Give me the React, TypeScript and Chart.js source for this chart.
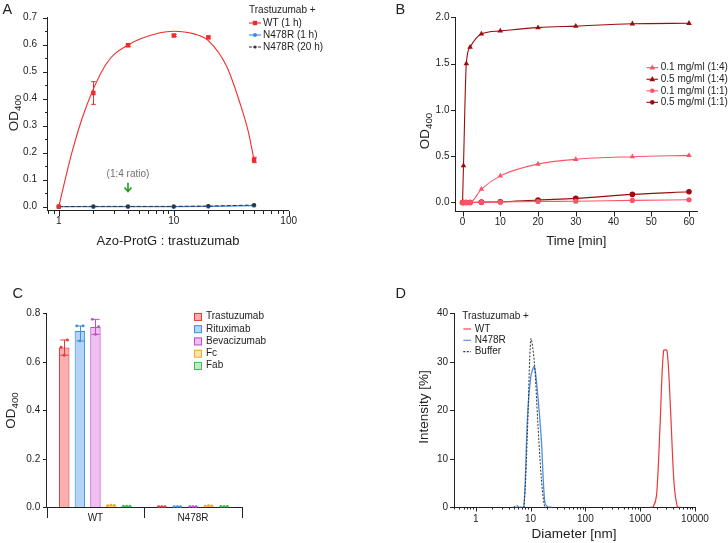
import React, { useEffect, useRef } from 'react';
import { Chart, registerables } from 'chart.js';

Chart.register(...registerables);

const FONT = '"Liberation Sans", Arial, Helvetica, sans-serif';
const INK = '#222222';

// ---------- A: OD400 vs. Azo-ProtG : trastuzumab ratio ----------
const ratios = [1, 2, 4, 10, 20, 50];
const wtOneHour = [0.0, 0.421, 0.598, 0.634, 0.627, 0.173];
const wtOneHourSd = [0.0, 0.042, 0.005, 0.004, 0.005, 0.01];
const n478rOneHour = [0.0, 0.0, 0.0, 0.0, 0.001, 0.004];
const n478rTwentyHours = [0.0, 0.001, 0.001, 0.001, 0.002, 0.006];
const wtTrendRatio = [1, 1.3, 1.69, 2.61, 4, 7.6, 10, 15, 20, 28.9, 37.7, 45, 50];
const wtTrendOD = [0.0, 0.2, 0.357, 0.531, 0.599, 0.644, 0.65, 0.64, 0.615, 0.519, 0.383, 0.27, 0.17];
const ratioNoteX = 4;
const ratioNoteY = 0.119;
const ratioArrowFrom = 0.089;
const ratioArrowTo = 0.056;

// ---------- B: OD400 time course ----------
const minutes = [0, 0.25, 1, 2, 5, 10, 20, 30, 45, 60];
const od01Ratio14 = [0, 0, 0, 0, 0.144, 0.287, 0.415, 0.466, 0.494, 0.508];
const od05Ratio14 = [0, 0.398, 1.5, 1.678, 1.82, 1.853, 1.888, 1.905, 1.93, 1.935];
const od01Ratio11 = [0, 0, 0, 0, 0.002, 0.004, 0.01, 0.013, 0.022, 0.029];
const od05Ratio11 = [0, 0, 0, 0, 0.003, 0.007, 0.027, 0.044, 0.087, 0.115];

// ---------- C: OD400 per antibody / fragment ----------
const variants = ['WT', 'N478R'];
const antibodyNames = ['Trastuzumab', 'Rituximab', 'Bevacizumab', 'Fc', 'Fab'];
const trastuzumabOD = [0.659, 0.003];
const rituximabOD = [0.727, 0.003];
const bevacizumabOD = [0.744, 0.003];
const fcOD = [0.008, 0.006];
const fabOD = [0.005, 0.004];
const trastuzumabReplicates = [[0.66, 0.627, 0.69], [0.003, 0.003, 0.003]];
const rituximabReplicates = [[0.748, 0.686, 0.748], [0.003, 0.003, 0.003]];
const bevacizumabReplicates = [[0.775, 0.713, 0.745], [0.003, 0.003, 0.003]];
const fcReplicates = [[0.007, 0.009, 0.008], [0.005, 0.007, 0.006]];
const fabReplicates = [[0.005, 0.005, 0.005], [0.004, 0.004, 0.004]];

// ---------- D: DLS size distribution ----------
const wtDiameter = [1484, 1718, 1990, 2305, 2669, 3091, 3580, 4145, 4801, 5560];
const wtIntensity = [0, 0, 2.5, 17, 32.3, 32.3, 20, 5, 0, 0];
const smallDiameter = [4.849, 5.615, 6.503, 7.531, 8.721, 10.1, 11.7, 13.54, 15.69, 18.17, 21.04, 24.36];
const n478rIntensity = [0, 0, 0, 0, 18, 27, 29, 23, 14, 1, 0, 0];
const bufferIntensity = [0, 0.3, 0, 0, 15, 34.7, 30, 17.5, 6, 0, 0, 0];

const RED = '#f42a2a';
const BLUE = '#3b88e6';
const DARK = '#333333';
const LIGHT_RED = '#ff5468';
const DARK_RED = '#9c0c0c';

const barColors = [
  { fill: 'rgba(246,120,120,0.6)', line: '#e8393d' },
  { fill: 'rgba(130,182,240,0.6)', line: '#3d8fe0' },
  { fill: 'rgba(226,150,234,0.6)', line: '#c04cc8' },
  { fill: 'rgba(252,206,130,0.6)', line: '#f5a623' },
  { fill: 'rgba(140,226,160,0.6)', line: '#33c25a' },
];

// ---------- drawing helpers ----------
type Ctx = CanvasRenderingContext2D;

const pts = (xs: number[], ys: number[]) => xs.map((x, i) => ({ x, y: ys[i] }));

function steps(min: number, max: number, step: number) {
  const out: number[] = [];
  const start = Math.ceil(min / step - 1e-9);
  for (let k = start; k * step <= max + 1e-9; k++) out.push(+(k * step).toFixed(6));
  return out;
}

function logMinors(min: number, max: number) {
  const out: number[] = [];
  for (let e = Math.floor(Math.log10(min)); e <= Math.ceil(Math.log10(max)); e++) {
    const d = Math.pow(10, e);
    for (let k = 2; k <= 9; k++) {
      const v = k * d;
      if (v >= min && v <= max) out.push(v);
    }
  }
  return out;
}

function label(ctx: Ctx, s: string, x: number, y: number, size: number, align: CanvasTextAlign = 'left', color = INK, baseline: CanvasTextBaseline = 'middle') {
  ctx.save();
  ctx.font = `${size}px ${FONT}`;
  ctx.fillStyle = color;
  ctx.textAlign = align;
  ctx.textBaseline = baseline;
  ctx.fillText(s, x, y);
  ctx.restore();
}

// axis title with optional subscript, centred on (cx, cy); vertical when rotate is set
function axisTitle(ctx: Ctx, main: string, sub: string, cx: number, cy: number, size: number, rotate: boolean) {
  ctx.save();
  ctx.translate(cx, cy);
  if (rotate) ctx.rotate(-Math.PI / 2);
  ctx.fillStyle = INK;
  ctx.textBaseline = 'alphabetic';
  const subSize = size * 0.72;
  ctx.font = `${size}px ${FONT}`;
  const w1 = ctx.measureText(main).width;
  ctx.font = `${subSize}px ${FONT}`;
  const w2 = sub ? ctx.measureText(sub).width : 0;
  const x0 = -(w1 + w2) / 2;
  const base = size * 0.36;
  ctx.font = `${size}px ${FONT}`;
  ctx.fillText(main, x0, base);
  if (sub) {
    ctx.font = `${subSize}px ${FONT}`;
    ctx.fillText(sub, x0 + w1, base + size * 0.22);
  }
  ctx.restore();
}

function axisTicks(ctx: Ctx, scale: any, majors: number[], minors: number[], majorLen: number, minorLen: number) {
  ctx.save();
  ctx.strokeStyle = INK;
  ctx.lineWidth = 1;
  ctx.beginPath();
  const horizontal = scale.isHorizontal();
  const mark = (v: number, len: number) => {
    const p = Math.round(scale.getPixelForValue(v)) + 0.5;
    if (horizontal) {
      const y0 = Math.round(scale.top);
      ctx.moveTo(p, y0);
      ctx.lineTo(p, y0 + len);
    } else {
      const x0 = Math.round(scale.right);
      ctx.moveTo(x0, p);
      ctx.lineTo(x0 - len, p);
    }
  };
  majors.forEach((v) => mark(v, majorLen));
  minors.forEach((v) => mark(v, minorLen));
  ctx.stroke();
  ctx.restore();
}

function marker(ctx: Ctx, style: string, x: number, y: number, r: number, color: string) {
  ctx.save();
  ctx.fillStyle = color;
  ctx.beginPath();
  if (style === 'rect') ctx.rect(x - r, y - r, 2 * r, 2 * r);
  else if (style === 'triangle') {
    ctx.moveTo(x, y - r * 1.2);
    ctx.lineTo(x + r * 1.05, y + r * 0.7);
    ctx.lineTo(x - r * 1.05, y + r * 0.7);
    ctx.closePath();
  } else ctx.arc(x, y, r, 0, Math.PI * 2);
  ctx.fill();
  ctx.restore();
}

function legendLine(ctx: Ctx, x0: number, x1: number, y: number, color: string, dash: number[], width = 1) {
  ctx.save();
  ctx.strokeStyle = color;
  ctx.lineWidth = width;
  ctx.setLineDash(dash);
  ctx.beginPath();
  ctx.moveTo(x0, y + 0.5);
  ctx.lineTo(x1, y + 0.5);
  ctx.stroke();
  ctx.restore();
}

function baseAxis(size: number, padding: number) {
  return {
    grid: { display: false, drawTicks: false },
    border: { display: true, color: INK, width: 1 },
    ticks: {
      color: INK,
      font: { family: FONT, size },
      padding,
      autoSkip: false,
      maxRotation: 0,
      minRotation: 0,
    },
  };
}

function baseOptions(padding: { left: number; top: number; right: number; bottom: number }) {
  return {
    responsive: false,
    maintainAspectRatio: false,
    animation: false as const,
    devicePixelRatio: 1,
    events: [] as any[],
    layout: { padding },
    plugins: { legend: { display: false }, tooltip: { enabled: false }, title: { display: false } },
  };
}

// ---------- panel A ----------
function configA(): any {
  const yTicks = steps(0, 0.7, 0.1);
  return {
    type: 'scatter',
    data: {
      datasets: [
        {
          data: pts(ratios, wtOneHour),
          showLine: false,
          pointStyle: 'rect',
          pointRadius: 3.1,
          backgroundColor: RED,
          borderColor: RED,
          borderWidth: 0,
        },
        {
          data: pts(wtTrendRatio, wtTrendOD),
          showLine: true,
          borderColor: RED,
          borderWidth: 1.1,
          pointRadius: 0,
          cubicInterpolationMode: 'monotone',
        },
        {
          data: pts(ratios, n478rTwentyHours),
          showLine: true,
          borderColor: DARK,
          borderDash: [4, 2],
          borderWidth: 1,
          pointRadius: 2,
          pointBackgroundColor: DARK,
          pointBorderWidth: 0,
        },
        {
          data: pts(ratios, n478rOneHour),
          showLine: true,
          borderColor: BLUE,
          borderWidth: 1.2,
          pointRadius: 2.3,
          pointBackgroundColor: BLUE,
          pointBorderWidth: 0,
        },
      ],
    },
    options: {
      ...baseOptions({ left: 0, top: 17.7, right: 75.3, bottom: 0 }),
      scales: {
        x: {
          type: 'logarithmic',
          min: 0.79,
          max: 100,
          ...baseAxis(10, 4.5),
          ticks: { ...baseAxis(10, 4.5).ticks, callback: (v: any) => String(v) },
          afterBuildTicks: (s: any) => {
            s.ticks = [1, 10, 100].map((value) => ({ value }));
          },
          afterFit: (s: any) => {
            s.height = 59.3;
          },
        },
        y: {
          type: 'linear',
          min: -0.015,
          max: 0.7,
          ...baseAxis(10, 10),
          ticks: { ...baseAxis(10, 10).ticks, callback: (v: any) => Number(v).toFixed(1) },
          afterBuildTicks: (s: any) => {
            s.ticks = yTicks.map((value) => ({ value }));
          },
          afterFit: (s: any) => {
            s.width = 47;
          },
        },
      },
    },
    plugins: [
      {
        id: 'panelA',
        beforeDatasetsDraw(chart: any) {
          const ctx: Ctx = chart.ctx;
          const { x, y } = chart.scales;
          axisTicks(ctx, x, [1, 10, 100], logMinors(0.79, 100), 5, 3);
          axisTicks(ctx, y, yTicks, steps(0, 0.7, 0.05).filter((v) => !yTicks.some((t) => Math.abs(t - v) < 1e-6)), 4, 2);
          // standard deviation bars for WT (1 h)
          ctx.save();
          ctx.strokeStyle = RED;
          ctx.lineWidth = 1;
          ctx.beginPath();
          ratios.forEach((r, i) => {
            if (!wtOneHourSd[i]) return;
            const px = Math.round(x.getPixelForValue(r)) + 0.5;
            const top = y.getPixelForValue(wtOneHour[i] + wtOneHourSd[i]);
            const bot = y.getPixelForValue(wtOneHour[i] - wtOneHourSd[i]);
            ctx.moveTo(px, top);
            ctx.lineTo(px, bot);
            ctx.moveTo(px - 2.3, top);
            ctx.lineTo(px + 2.3, top);
            ctx.moveTo(px - 2.3, bot);
            ctx.lineTo(px + 2.3, bot);
          });
          ctx.stroke();
          ctx.restore();
        },
        afterDraw(chart: any) {
          const ctx: Ctx = chart.ctx;
          const { x, y } = chart.scales;
          label(ctx, 'A', 2.5, 14, 14.5, 'left', INK, 'alphabetic');
          axisTitle(ctx, 'OD', '400', 13.5, 113, 13.5, true);
          axisTitle(ctx, 'Azo-ProtG : trastuzumab', '', 168, 240.5, 13, false);
          // ratio annotation
          const ax = x.getPixelForValue(ratioNoteX);
          label(ctx, '(1:4 ratio)', ax, y.getPixelForValue(ratioNoteY), 10, 'center', '#707070');
          const a0 = y.getPixelForValue(ratioArrowFrom);
          const a1 = y.getPixelForValue(ratioArrowTo);
          ctx.save();
          ctx.strokeStyle = '#1e9e1e';
          ctx.lineWidth = 1.6;
          ctx.beginPath();
          ctx.moveTo(ax, a0);
          ctx.lineTo(ax, a1);
          ctx.moveTo(ax - 3.5, a1 - 4);
          ctx.lineTo(ax, a1);
          ctx.lineTo(ax + 3.5, a1 - 4);
          ctx.stroke();
          ctx.restore();
          // legend
          label(ctx, 'Trastuzumab +', 249, 10.7, 10);
          const rows: [string, string, number[], string, number][] = [
            ['WT (1 h)', RED, [], 'rect', 2.2],
            ['N478R (1 h)', BLUE, [], 'circle', 2],
            ['N478R (20 h)', DARK, [3, 1.5], 'circle', 1.6],
          ];
          rows.forEach(([t, c, dash, m, r], i) => {
            const yy = 23 + i * 12;
            legendLine(ctx, 249, 261, yy - 0.5, c, dash, 1.1);
            marker(ctx, m, 255, yy, r, c);
            label(ctx, t, 263, yy, 10);
          });
        },
      },
    ],
  };
}

// ---------- panel B ----------
function configB(): any {
  const xTicks = steps(0, 60, 10);
  const yTicks = steps(0, 2, 0.5);
  const series: [number[], string, string, number][] = [
    [od01Ratio14, LIGHT_RED, 'triangle', 3.2],
    [od05Ratio14, DARK_RED, 'triangle', 3.2],
    [od01Ratio11, LIGHT_RED, 'circle', 2.6],
    [od05Ratio11, DARK_RED, 'circle', 2.8],
  ];
  return {
    type: 'scatter',
    data: {
      datasets: series.map(([vals, color, style, r]) => ({
        data: pts(minutes, vals),
        showLine: true,
        borderColor: color,
        borderWidth: 1.1,
        pointStyle: style,
        pointRadius: r,
        pointBackgroundColor: color,
        pointBorderColor: color,
        pointBorderWidth: 0,
        cubicInterpolationMode: 'monotone',
      })),
    },
    options: {
      ...baseOptions({ left: 0, top: 17.3, right: 30.7, bottom: 0 }),
      scales: {
        x: {
          type: 'linear',
          min: -2,
          max: 62.2,
          ...baseAxis(10, 4.8),
          ticks: { ...baseAxis(10, 4.8).ticks, callback: (v: any) => String(v) },
          afterBuildTicks: (s: any) => {
            s.ticks = xTicks.map((value) => ({ value }));
          },
          afterFit: (s: any) => {
            s.height = 58.3;
          },
        },
        y: {
          type: 'linear',
          min: -0.1,
          max: 2.0,
          ...baseAxis(10, 5.5),
          ticks: { ...baseAxis(10, 5.5).ticks, callback: (v: any) => Number(v).toFixed(1) },
          afterBuildTicks: (s: any) => {
            s.ticks = yTicks.map((value) => ({ value }));
          },
          afterFit: (s: any) => {
            s.width = 91;
          },
        },
      },
    },
    plugins: [
      {
        id: 'panelB',
        beforeDatasetsDraw(chart: any) {
          const ctx: Ctx = chart.ctx;
          const { x, y } = chart.scales;
          axisTicks(ctx, x, xTicks, steps(5, 55, 10), 4.5, 2.5);
          axisTicks(ctx, y, yTicks, steps(0.25, 1.75, 0.5), 4, 2);
        },
        afterDraw(chart: any) {
          const ctx: Ctx = chart.ctx;
          label(ctx, 'B', 31.5, 14, 14.5, 'left', INK, 'alphabetic');
          axisTitle(ctx, 'OD', '400', 60.5, 131, 13.5, true);
          axisTitle(ctx, 'Time [min]', '', 212.3, 240.5, 13, false);
          const names = ['0.1 mg/ml (1:4)', '0.5 mg/ml (1:4)', '0.1 mg/ml (1:1)', '0.5 mg/ml (1:1)'];
          series.forEach(([, color, style], i) => {
            const yy = 67.7 + i * 11.55;
            legendLine(ctx, 282.5, 294, yy - 0.5, color, [], 1.1);
            marker(ctx, style, 288.3, yy, style === 'triangle' ? 2.7 : 2.3, color);
            label(ctx, names[i], 296.7, yy, 10);
          });
        },
      },
    ],
  };
}

// ---------- panel C ----------
function configC(): any {
  const yTicks = steps(0, 0.8, 0.2);
  const means = [trastuzumabOD, rituximabOD, bevacizumabOD, fcOD, fabOD];
  const reps = [trastuzumabReplicates, rituximabReplicates, bevacizumabReplicates, fcReplicates, fabReplicates];
  return {
    type: 'bar',
    data: {
      labels: variants,
      datasets: antibodyNames.map((name, i) => ({
        label: name,
        data: means[i],
        backgroundColor: barColors[i].fill,
        borderColor: barColors[i].line,
        borderWidth: 1,
        categoryPercentage: 0.8,
        barPercentage: 0.67,
      })),
    },
    options: {
      ...baseOptions({ left: 0, top: 43.3, right: 122.3, bottom: 0 }),
      scales: {
        x: {
          type: 'category',
          offset: true,
          ...baseAxis(10, 5),
          afterFit: (s: any) => {
            s.height = 35.7;
          },
        },
        y: {
          type: 'linear',
          min: 0,
          max: 0.8,
          ...baseAxis(10, 6.5),
          ticks: { ...baseAxis(10, 6.5).ticks, callback: (v: any) => Number(v).toFixed(1) },
          afterBuildTicks: (s: any) => {
            s.ticks = yTicks.map((value) => ({ value }));
          },
          afterFit: (s: any) => {
            s.width = 46.7;
          },
        },
      },
    },
    plugins: [
      {
        id: 'panelC',
        beforeDatasetsDraw(chart: any) {
          const ctx: Ctx = chart.ctx;
          const { x, y } = chart.scales;
          axisTicks(ctx, y, yTicks, steps(0.1, 0.7, 0.2), 4, 2);
          // category boundaries on the x axis
          const w = x.getPixelForValue(1) - x.getPixelForValue(0);
          const edges = [x.getPixelForValue(0) - w / 2, x.getPixelForValue(0) + w / 2, x.getPixelForValue(1) + w / 2];
          ctx.save();
          ctx.strokeStyle = INK;
          ctx.lineWidth = 1;
          ctx.beginPath();
          edges.forEach((e) => {
            const p = Math.round(e) + 0.5;
            ctx.moveTo(p, Math.round(y.bottom));
            ctx.lineTo(p, Math.round(y.bottom) + 11);
          });
          ctx.stroke();
          ctx.restore();
        },
        afterDatasetsDraw(chart: any) {
          const ctx: Ctx = chart.ctx;
          const { y } = chart.scales;
          reps.forEach((groupReps, i) => {
            const meta = chart.getDatasetMeta(i);
            groupReps.forEach((vals, j) => {
              const bar = meta.data[j];
              const bx = bar.x;
              const bw = bar.width;
              const lo = Math.min(...vals);
              const hi = Math.max(...vals);
              const col = barColors[i].line;
              ctx.save();
              ctx.strokeStyle = col;
              ctx.fillStyle = col;
              ctx.lineWidth = 1;
              if (hi - lo > 0.004) {
                const pt = y.getPixelForValue(hi);
                const pb = y.getPixelForValue(lo);
                const xx = Math.round(bx) + 0.5;
                ctx.beginPath();
                ctx.moveTo(xx, pt);
                ctx.lineTo(xx, pb);
                ctx.moveTo(xx - bw * 0.4, pt);
                ctx.lineTo(xx + bw * 0.4, pt);
                ctx.moveTo(xx - bw * 0.4, pb);
                ctx.lineTo(xx + bw * 0.4, pb);
                ctx.stroke();
              }
              vals.forEach((v, k) => {
                ctx.beginPath();
                ctx.arc(bx + (k - 1) * bw * 0.3, y.getPixelForValue(v), 1.4, 0, Math.PI * 2);
                ctx.fill();
              });
              ctx.restore();
            });
          });
        },
        afterDraw(chart: any) {
          const ctx: Ctx = chart.ctx;
          label(ctx, 'C', 12.5, 27.5, 14.5, 'left', INK, 'alphabetic');
          axisTitle(ctx, 'OD', '400', 10.5, 140.5, 13.5, true);
          antibodyNames.forEach((name, i) => {
            const yy = 46.7 + i * 12.25;
            ctx.save();
            ctx.fillStyle = barColors[i].fill;
            ctx.strokeStyle = barColors[i].line;
            ctx.lineWidth = 1;
            ctx.fillRect(194, yy - 3.75, 7.5, 7.5);
            ctx.strokeRect(194.5, yy - 3.25, 7, 7);
            ctx.restore();
            label(ctx, name, 206, yy, 10);
          });
        },
      },
    ],
  };
}

// ---------- panel D ----------
function configD(): any {
  const yTicks = steps(0, 40, 10);
  const xTicks = [1, 10, 100, 1000, 10000];
  return {
    type: 'scatter',
    data: {
      datasets: [
        {
          data: pts(smallDiameter, bufferIntensity),
          showLine: true,
          borderColor: DARK,
          borderDash: [2, 1.5],
          borderWidth: 1,
          pointRadius: 0,
          tension: 0.3,
        },
        {
          data: pts(smallDiameter, n478rIntensity),
          showLine: true,
          borderColor: '#4a90e2',
          borderWidth: 1.3,
          pointRadius: 0,
          tension: 0.3,
        },
        {
          data: pts(wtDiameter, wtIntensity),
          showLine: true,
          borderColor: '#f03636',
          borderWidth: 1.2,
          pointRadius: 0,
          tension: 0.3,
        },
      ],
    },
    options: {
      ...baseOptions({ left: 0, top: 43.3, right: 33, bottom: 0 }),
      scales: {
        x: {
          type: 'logarithmic',
          min: 0.4,
          max: 10000,
          ...baseAxis(10, 6),
          ticks: { ...baseAxis(10, 6).ticks, callback: (v: any) => String(v) },
          afterBuildTicks: (s: any) => {
            s.ticks = xTicks.map((value) => ({ value }));
          },
          afterFit: (s: any) => {
            s.height = 35.7;
          },
        },
        y: {
          type: 'linear',
          min: 0,
          max: 40,
          ...baseAxis(10, 6),
          ticks: { ...baseAxis(10, 6).ticks, callback: (v: any) => String(v) },
          afterBuildTicks: (s: any) => {
            s.ticks = yTicks.map((value) => ({ value }));
          },
          afterFit: (s: any) => {
            s.width = 90;
          },
        },
      },
    },
    plugins: [
      {
        id: 'panelD',
        beforeDatasetsDraw(chart: any) {
          const ctx: Ctx = chart.ctx;
          const { x, y } = chart.scales;
          axisTicks(ctx, x, xTicks, logMinors(0.4, 10000), 4.5, 2.5);
          axisTicks(ctx, y, yTicks, steps(5, 35, 10), 4, 2);
        },
        afterDraw(chart: any) {
          const ctx: Ctx = chart.ctx;
          label(ctx, 'D', 31.5, 27.5, 14.5, 'left', INK, 'alphabetic');
          axisTitle(ctx, 'Intensity [%]', '', 59, 137, 13.5, true);
          axisTitle(ctx, 'Diameter [nm]', '', 210, 263.5, 13.5, false);
          label(ctx, 'Trastuzumab +', 98.3, 46.7, 10);
          const rows: [string, string, number[]][] = [
            ['WT', '#f03636', []],
            ['N478R', '#4a90e2', []],
            ['Buffer', DARK, [2, 1.5]],
          ];
          rows.forEach(([t, c, dash], i) => {
            const yy = 59 + i * 11.3;
            legendLine(ctx, 99.3, 107, yy - 0.5, c, dash, 1.1);
            label(ctx, t, 110.7, yy, 10);
          });
        },
      },
    ],
  };
}

function ChartCanvas({ left, top, width, height, make }: { left: number; top: number; width: number; height: number; make: () => any }) {
  const ref = useRef<HTMLCanvasElement | null>(null);
  useEffect(() => {
    if (!ref.current) return;
    const chart = new Chart(ref.current, make());
    return () => chart.destroy();
  }, [make]);
  return (
    <canvas
      ref={ref}
      width={width}
      height={height}
      style={{ position: 'absolute', left, top, width, height, display: 'block' }}
    />
  );
}

export default function App() {
  return (
    <div style={{ position: 'fixed', left: 0, top: 0, width: 728, height: 543, background: '#ffffff', overflow: 'hidden' }}>
      <ChartCanvas left={0} top={0} width={364} height={270} make={configA} />
      <ChartCanvas left={364} top={0} width={364} height={270} make={configB} />
      <ChartCanvas left={0} top={270} width={364} height={273} make={configC} />
      <ChartCanvas left={364} top={270} width={364} height={273} make={configD} />
    </div>
  );
}
